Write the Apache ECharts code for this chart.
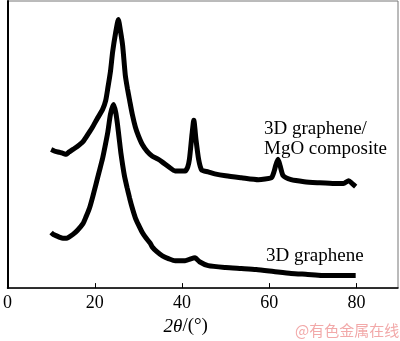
<!DOCTYPE html>
<html>
<head>
<meta charset="utf-8">
<script src="https://cdn.jsdelivr.net/npm/echarts@6/dist/echarts.min.js"></script>
<style>
  html, body { margin: 0; padding: 0; background: #fff; }
  #chart { width: 400px; height: 341px; }
</style>
</head>
<body>
<div id="chart"></div>
<script>
// 2theta (deg) and intensity (arb. units)
var compositeTheta = [10, 10.5, 11, 12, 12.7, 13.5, 14, 15, 16, 17.3, 18.5, 19.5, 20.5, 21.8, 22.5, 23, 23.6, 24.1, 24.8, 25.4, 25.9, 26.4, 27, 27.5, 28, 28.6, 29.3, 30, 30.9, 32, 33.2, 34.5, 35.5, 37, 38.4, 39.5, 40.7, 41.3, 41.7, 42.3, 42.7, 43.2, 43.8, 44.5, 46, 47.5, 50, 53.6, 57.5, 60.5, 61, 61.5, 62, 62.5, 63.2, 65, 68, 71, 75, 77, 78.2, 79, 79.8];
var compositeValue = [142, 141, 140, 139, 138, 137, 139, 142, 145, 150, 158, 165, 173, 183, 192, 205, 222, 242, 262, 275, 263, 248, 218, 204, 192, 178, 165, 156, 147, 140, 135, 132, 129, 124, 120, 120, 120, 124, 132, 158, 172, 152, 132, 121, 119, 117, 115, 113, 111, 113, 118, 126, 132, 125, 115, 111, 109, 108, 107, 107, 110, 107, 104];

var grapheneTheta = [10, 10.5, 11, 12, 12.7, 13.5, 14, 15, 16, 17.3, 18, 18.8, 19.5, 20.2, 21, 21.8, 22.4, 23, 23.6, 24.3, 24.8, 25.2, 25.6, 26, 26.8, 27.4, 28, 28.6, 29.3, 30, 30.9, 31.8, 32.7, 33.2, 34.3, 35.5, 37, 38.4, 40.7, 42, 43, 44, 46, 50, 53.6, 57, 61, 65, 68.8, 72, 76.4, 79.8];
var grapheneValue = [57, 55, 54, 52, 51, 51, 52, 55, 59, 66, 73, 82, 93, 105, 119, 133, 146, 160, 178, 188, 180, 168, 153, 138, 115, 103, 92, 82, 72, 65, 57, 51, 46, 42, 37, 33, 30, 28, 28, 30, 31, 27, 23, 21, 20, 19, 17, 15, 14, 13, 13, 13];

var xTicks = [0, 20, 40, 60, 80];

function pairs(xs, ys) {
    return xs.map(function (x, i) { return [x, ys[i]]; });
}

var chart = echarts.init(document.getElementById('chart'));
var serif = 'Liberation Serif, Times New Roman, serif';

var option = {
    animation: false,
    backgroundColor: '#fff',
    grid: {
        left: 4,
        right: 2,
        top: 1,
        bottom: 46,
        show: true,
        borderColor: '#777',
        borderWidth: 1
    },
    xAxis: {
        type: 'value',
        min: 0,
        max: 89.5,
        interval: 20,
        name: '{i|2θ}/(°)',
        nameLocation: 'middle',
        nameGap: 27,
        nameTextStyle: {
            fontFamily: serif,
            fontSize: 19,
            color: '#000',
            padding: [0, 34, 0, 0],
            rich: {
                i: { fontFamily: serif, fontSize: 19, fontStyle: 'italic', color: '#000' }
            }
        },
        axisLine: { lineStyle: { color: '#000', width: 1.5 } },
        axisTick: { inside: true, length: 5, lineStyle: { color: '#000' } },
        axisLabel: {
            fontFamily: serif,
            fontSize: 18,
            color: '#000',
            margin: 6,
            showMaxLabel: false,
            formatter: function (v) {
                return xTicks.indexOf(v) >= 0 ? String(v) : '';
            }
        },
        splitLine: { show: false }
    },
    yAxis: {
        type: 'value',
        min: 0,
        max: 294,
        axisLine: { show: true, lineStyle: { color: '#000', width: 2 } },
        axisTick: { show: false },
        axisLabel: { show: false },
        splitLine: { show: false }
    },
    series: [{
        name: '3D graphene/MgO composite',
        type: 'line',
        data: pairs(compositeTheta, compositeValue),
        showSymbol: false,
        smooth: 0.2,
        lineStyle: { color: '#000', width: 5 }
    }, {
        name: '3D graphene',
        type: 'line',
        data: pairs(grapheneTheta, grapheneValue),
        showSymbol: false,
        smooth: 0.2,
        lineStyle: { color: '#000', width: 5 }
    }],
    graphic: [{
        type: 'text',
        left: 264,
        top: 119,
        style: {
            text: '3D graphene/\nMgO composite',
            font: '19px ' + serif,
            lineHeight: 20,
            fill: '#000'
        }
    }, {
        type: 'text',
        left: 266,
        top: 247,
        style: {
            text: '3D graphene',
            font: '19px ' + serif,
            fill: '#000'
        }
    }, {
        type: 'text',
        left: 295,
        top: 323,
        style: {
            text: '@有色金属在线',
            font: '15px "Noto Sans CJK SC"',
            fill: '#f2a9a9'
        }
    }]
};

chart.setOption(option);
</script>
</body>
</html>
